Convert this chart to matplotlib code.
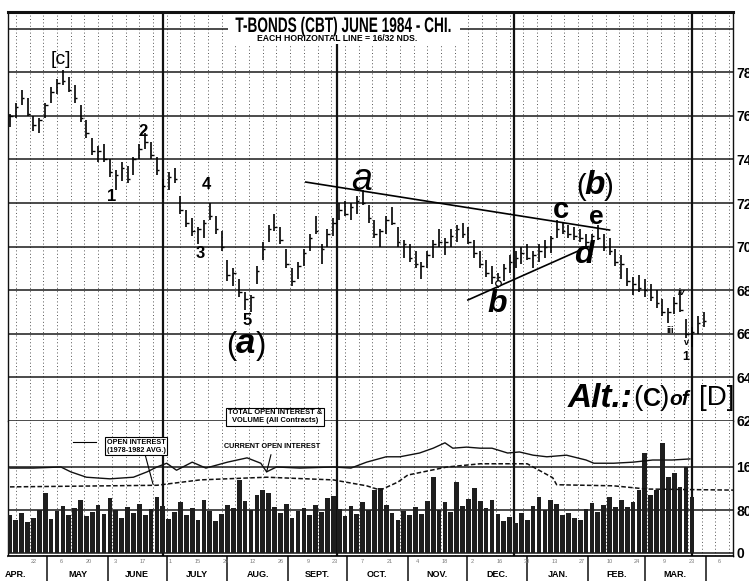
import pandas as pd
import matplotlib
matplotlib.use("Agg")
import matplotlib.pyplot as plt
import matplotlib.dates as mdates
from matplotlib.patches import Rectangle, PathPatch
from matplotlib.lines import Line2D
from matplotlib.textpath import TextPath
from matplotlib.font_manager import FontProperties
from matplotlib.transforms import Affine2D

SANS = ["Liberation Sans", "DejaVu Sans"]

# price bars, one every 3 calendar days from 12 Apr 1983
bar_high = [76.1, 76.6, 77.2, 76.8, 76.0, 75.9, 76.6, 77.3, 77.7, 78.1,
            77.8, 77.4, 76.5, 75.8, 75.0, 74.6, 74.7, 74.0, 73.5, 73.9,
            73.7, 74.1, 74.7, 75.2, 74.8, 74.1, 73.1, 73.4, 73.6, 72.3,
            71.7, 71.3, 70.9, 71.2, 72.0, 71.4, 70.7, 69.4, 69.0, 68.5,
            67.9, 67.8, 69.1, 70.2, 71.0, 71.5, 70.9, 69.9, 69.0, 69.3,
            69.9, 70.6, 71.4, 70.1, 70.8, 71.3, 72.0, 72.1, 72.0, 72.3,
            72.6, 71.9, 71.2, 70.8, 71.4, 71.8, 70.9, 70.3, 70.1, 69.8,
            69.3, 69.8, 70.3, 70.8, 70.4, 70.8, 71.0, 71.1, 70.9, 70.3,
            69.8, 69.4, 69.1, 68.8, 69.2, 69.6, 69.8, 70.0, 70.1, 69.8,
            70.1, 70.3, 70.5, 71.2, 71.1, 71.0, 70.9, 70.8, 70.6, 70.6,
            71.0, 70.6, 70.4, 69.9, 69.6, 69.0, 68.6, 68.7, 68.5, 68.3,
            68.0, 67.6, 67.2, 67.7, 67.9, 66.7, 66.3, 66.8, 67.0]
bar_low = [75.5, 75.9, 76.5, 76.0, 75.3, 75.2, 75.9, 76.6, 77.0, 77.4,
           77.1, 76.6, 75.7, 75.0, 74.2, 73.9, 73.9, 73.2, 72.6, 73.0,
           72.9, 73.3, 74.0, 74.5, 74.0, 73.3, 72.2, 72.6, 72.9, 71.5,
           70.9, 70.5, 70.1, 70.4, 71.2, 70.6, 69.8, 68.4, 68.2, 67.7,
           67.1, 67.0, 68.3, 69.4, 70.2, 70.7, 70.1, 69.0, 68.2, 68.5,
           69.1, 69.8, 70.6, 69.2, 70.0, 70.5, 71.2, 71.4, 71.2, 71.5,
           71.9, 71.1, 70.4, 70.0, 70.6, 71.0, 70.0, 69.5, 69.3, 69.0,
           68.5, 69.0, 69.5, 70.0, 69.6, 70.0, 70.2, 70.4, 70.1, 69.5,
           69.0, 68.6, 68.3, 68.1, 68.4, 68.8, 69.0, 69.2, 69.4, 69.0,
           69.3, 69.5, 69.7, 70.4, 70.6, 70.4, 70.3, 70.2, 70.0, 69.9,
           70.3, 69.8, 69.6, 69.1, 68.5, 68.2, 67.8, 67.9, 67.7, 67.5,
           67.2, 66.8, 66.5, 66.9, 67.0, 65.8, 65.4, 66.0, 66.3]
bar_close = [76.0, 76.4, 76.8, 76.1, 75.6, 75.8, 76.5, 77.1, 77.5, 77.6,
             77.2, 76.8, 75.9, 75.2, 74.4, 74.4, 74.0, 73.4, 73.3, 73.6,
             73.1, 74.0, 74.5, 74.8, 74.2, 73.5, 72.8, 73.2, 73.1, 71.7,
             71.1, 70.7, 70.8, 71.1, 71.4, 70.8, 70.0, 68.7, 68.8, 67.9,
             67.6, 67.7, 68.9, 69.9, 70.8, 70.9, 70.3, 69.2, 68.4, 69.1,
             69.7, 70.4, 70.7, 69.9, 70.6, 71.1, 71.7, 71.5, 71.8, 72.1,
             72.0, 71.3, 70.6, 70.7, 71.2, 71.1, 70.2, 70.1, 69.5, 69.2,
             69.1, 69.6, 70.1, 70.2, 70.2, 70.5, 70.8, 70.6, 70.2, 69.7,
             69.2, 68.8, 68.6, 68.6, 69.0, 69.3, 69.5, 69.7, 69.5, 69.6,
             69.8, 70.0, 70.4, 70.8, 70.7, 70.6, 70.5, 70.4, 70.2, 70.5,
             70.4, 70.0, 69.8, 69.3, 69.2, 68.4, 68.3, 68.1, 68.0, 67.7,
             67.4, 67.0, 67.0, 67.4, 67.1, 66.0, 66.1, 66.5, 66.6]

# total volume, thousands of contracts, same 3-day steps
volume = [70, 62, 75, 58, 66, 80, 112, 64, 78, 88,
          70, 84, 99, 68, 76, 90, 72, 102, 80, 66,
          86, 74, 92, 70, 82, 104, 88, 64, 76, 95,
          70, 84, 62, 99, 78, 60, 72, 90, 84, 136,
          96, 80, 108, 117, 112, 86, 74, 92, 66, 78,
          84, 70, 90, 76, 102, 106, 82, 68, 88, 72,
          94, 80, 117, 121, 90, 74, 62, 78, 70, 86,
          72, 96, 141, 80, 94, 76, 132, 88, 100, 121,
          96, 84, 98, 72, 60, 67, 56, 74, 62, 88,
          104, 80, 98, 92, 70, 74, 66, 61, 82, 93,
          76, 90, 104, 86, 98, 86, 94, 117, 186, 108,
          117, 205, 141, 149, 123, 160, 104]

# open interest, days after 11 Apr 1983
oi_days = [1, 13, 27, 32, 40, 52, 64, 71, 76, 81, 86, 94, 101, 112, 122,
           129, 132, 137, 149, 166, 175, 183, 193, 200, 210, 217, 223, 227,
           234, 241, 247, 255, 261, 268, 275, 285, 295, 299, 309, 319, 329,
           339, 348]
oi_current = [158, 158, 160, 151, 141, 138, 141, 151, 160, 167, 154, 169,
              158, 169, 177, 167, 151, 160, 158, 160, 158, 169, 179, 179,
              186, 195, 205, 195, 197, 195, 195, 186, 188, 182, 179, 182,
              173, 167, 167, 169, 173, 173, 175]
avg_days = [1, 76, 98, 132, 166, 183, 190, 199, 204, 224, 241, 265, 278,
            280, 309, 326, 370]
oi_avg = [123, 126, 136, 141, 136, 125, 117, 132, 145, 160, 166, 166, 140,
          127, 125, 119, 117]

price_ticks = [62, 64, 66, 68, 70, 72, 74, 76, 78, 80]
price_labels = ["62", "64", "66", "68", "70", "72", "74", "76", "78", ""]
volume_ticks = [0, 80, 160]
month_names = ["APR.", "MAY", "JUNE", "JULY", "AUG.", "SEPT.", "OCT.",
               "NOV.", "DEC.", "JAN.", "FEB.", "MAR."]
quarter_lines = ["1983-06-29", "1983-09-26", "1983-12-25", "1984-03-25"]

start = pd.Timestamp("1983-04-11")
end = start + pd.Timedelta(days=370)


def day(n):
    return mdates.date2num(start + pd.Timedelta(days=n))


price_x = mdates.date2num(pd.date_range("1983-04-12", periods=len(bar_high), freq="3D"))
vol_x = mdates.date2num(pd.date_range("1983-04-12", periods=len(volume), freq="3D"))

W, H = 749, 581
fig = plt.figure(figsize=(W / 100, H / 100), dpi=100)
fig.patch.set_facecolor("white")

left, right = 8 / W, 733 / W
ax = fig.add_axes([left, 1 - 421 / H, right - left, 409 / H])
axv = fig.add_axes([left, 1 - 556 / H, right - left, 135 / H])
axm = fig.add_axes([left, 0, right - left, 25 / H])

x0, x1 = mdates.date2num(start), mdates.date2num(end)
for a in (ax, axv, axm):
    a.set_xlim(x0, x1)
    a.set_xticks([])

ax.set_ylim(62, 62 + 409 / 21.8)
axv.set_ylim(-3 * 80 / 43, 132 * 80 / 43)

# grid: weekly dotted verticals, quarter-end solid lines
fridays = mdates.date2num(pd.date_range("1983-04-15", end, freq="7D"))
for a in (ax, axv):
    for f in fridays:
        a.axvline(f, color="#555555", lw=0.7, ls=(0, (1, 2.5)), zorder=1)
    for q in quarter_lines:
        a.axvline(mdates.date2num(pd.Timestamp(q)), color="#111111", lw=1.6, zorder=2)

ax.set_yticks(price_ticks, price_labels)
axv.set_yticks(volume_ticks)
for a in (ax, axv):
    a.yaxis.tick_right()
    a.tick_params(axis="y", length=0, pad=2.5)
    a.grid(axis="y", color="#1a1a1a", lw=1.1, zorder=1)
    for lab in a.get_yticklabels():
        lab.set_family(SANS)
        lab.set_fontweight("bold")
        lab.set_fontsize(10)
    for s in a.spines.values():
        s.set_color("#111111")
        s.set_linewidth(1.0)
ax.spines["top"].set_linewidth(2.2)
ax.spines["bottom"].set_visible(False)
axv.spines["top"].set_visible(False)

# price bars
ax.vlines(price_x, bar_low, bar_high, color="black", lw=1.2, zorder=4)
ax.hlines(bar_close, price_x, price_x + 1.3, color="black", lw=1.0, zorder=4)

# trend lines
ax.plot([day(152), day(307)], [72.96, 70.76], color="black", lw=1.2, zorder=5)
ax.plot([day(234.7), day(296)], [67.55, 70.0], color="black", lw=1.2, zorder=5)
ax.plot([day(250)], [68.35], marker="o", ms=4, mfc="white", mec="black", mew=0.9, zorder=6)


# wave labels
def lbl(s, d, p, size, weight="normal", style="normal"):
    ax.text(day(d), p, s, ha="center", va="center", fontsize=size,
            fontweight=weight, fontstyle=style, family=SANS, zorder=7)


lbl("[c]", 27, 78.6, 14)
lbl("1", 53, 72.3, 12, "bold")
lbl("2", 69, 75.3, 12, "bold")
lbl("4", 101, 72.85, 12, "bold")
lbl("3", 98, 69.7, 12, "bold")
lbl("5", 122, 66.6, 12, "bold")
lbl("(", 114, 65.45, 22)
lbl("a", 121, 65.55, 25, "bold", "italic")
lbl(")", 129, 65.45, 22)
lbl("a", 180.6, 73.05, 27, "normal", "italic")
lbl("(", 292.5, 72.75, 21)
lbl("b", 299.5, 72.8, 24, "bold", "italic")
lbl(")", 306.5, 72.75, 21)
lbl("c", 282, 71.7, 21, "bold")
lbl("e", 300, 71.35, 19, "bold")
lbl("d", 294, 69.6, 23, "bold", "italic")
lbl("b", 249.5, 67.35, 23, "bold", "italic")
lbl("iii", 338, 66.13, 6.5, "bold")
lbl("iv", 344, 67.9, 6.5, "bold", "italic")
lbl("v", 346.5, 65.6, 6.5, "bold")
lbl("1", 346, 64.95, 9, "bold")

# alternate count
ax.text(day(285.7), 63.05, "Alt.:", ha="left", va="center", fontsize=24,
        fontweight="bold", fontstyle="italic", family=SANS, zorder=7)
lbl("(", 321.4, 63.05, 20)
lbl("C", 328.6, 63.0, 18, "bold")
lbl(")", 335.2, 63.05, 20)
lbl("of", 342.5, 63.0, 15, "bold", "italic")
lbl("[D]", 361.5, 63.05, 20)

# volume and open interest
axv.bar(vol_x, volume, width=2.4, color="#1e1e1e", zorder=3)
axv.plot([day(d) for d in oi_days], oi_current, color="#111111", lw=1.0, zorder=4)
axv.plot([day(d) for d in avg_days], oi_avg, color="#111111", lw=1.1,
         ls=(0, (3, 1.5)), zorder=4)

box = dict(boxstyle="square,pad=0.25", fc="white", ec="black", lw=0.8)
fig.text(275 / W, 1 - 417 / H, "TOTAL OPEN INTEREST &\nVOLUME (All Contracts)",
         ha="center", va="center", fontsize=5.4, fontweight="bold", family=SANS,
         linespacing=1.2, bbox=box, zorder=8)
axv.annotate("OPEN INTEREST\n(1978-1982 AVG.)", xy=(day(74), 128),
             xytext=(136 / W, 1 - 446 / H), textcoords="figure fraction",
             ha="center", va="center", fontsize=5.2, fontweight="bold", family=SANS,
             linespacing=1.2, bbox=box, annotation_clip=False, zorder=8,
             arrowprops=dict(arrowstyle="-", lw=0.8, color="black",
                             shrinkA=0, shrinkB=0, relpos=(0.65, 0.0)))
axv.annotate("CURRENT OPEN INTEREST", xy=(day(132), 151),
             xytext=(272 / W, 1 - 447 / H), textcoords="figure fraction",
             ha="center", va="center", fontsize=5.2, fontweight="bold", family=SANS,
             annotation_clip=False, zorder=8,
             arrowprops=dict(arrowstyle="-", lw=0.8, color="black",
                             shrinkA=1, shrinkB=0, relpos=(0.5, 0.0)))
fig.add_artist(Line2D([73 / W, 96 / W], [1 - 442 / H, 1 - 442 / H],
                      color="black", lw=0.8, zorder=8))

# month strip
axm.set_ylim(0, 1)
for s in ("left", "right", "bottom"):
    axm.spines[s].set_visible(False)
axm.spines["top"].set_linewidth(1.2)
axm.set_yticks([])
month_starts = pd.date_range("1983-05-01", "1984-04-01", freq="MS")
axm.vlines(mdates.date2num(month_starts), 0, 1, color="#222222", lw=1.2)
edges = [start] + list(month_starts)
for i, name in enumerate(month_names):
    if i == 0:
        axm.text(x0 - 1.5, 0.25, name, ha="left", va="center", fontsize=6.5,
                 fontweight="bold", family=SANS, clip_on=False)
        continue
    mid = edges[i] + (edges[i + 1] - edges[i]) / 2
    axm.text(mdates.date2num(mid), 0.25, name, ha="center", va="center",
             fontsize=6.5, fontweight="bold", family=SANS)
for f in pd.date_range("1983-04-22", end, freq="14D"):
    axm.text(mdates.date2num(f + pd.Timedelta(days=2)), 0.78, str(f.day),
             ha="center", va="center", fontsize=4, color="#777777", family=SANS)

# title block: condensed heading drawn as a squeezed text path
fig.patches.append(Rectangle((228 / W, 1 - 44 / H), 232 / W, 30 / H,
                             transform=fig.transFigure, fc="white", ec="none", zorder=1))
title = TextPath((0, 0), "T-BONDS (CBT) JUNE 1984 - CHI.", size=21,
                 prop=FontProperties(family=SANS, weight="bold"))
tb = title.get_extents()
squeeze = Affine2D().translate(-tb.x0 - tb.width / 2, 0).scale(215 / tb.width, 1.0)
fig.add_artist(PathPatch(title, transform=squeeze.translate(343, H - 32),
                         fc="black", ec="none", zorder=3))
fig.text(337 / W, 1 - 38.5 / H, "EACH HORIZONTAL LINE = 16/32 NDS.", ha="center",
         va="center", fontsize=6.2, fontweight="bold", family=SANS, zorder=3)

fig.savefig("out.png", dpi=100, facecolor="white")
